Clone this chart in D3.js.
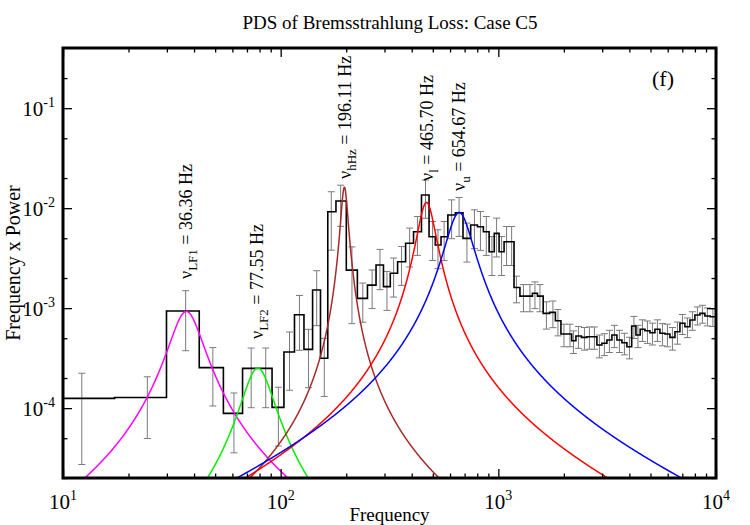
<!DOCTYPE html>
<html><head><meta charset="utf-8">
<script src="https://cdn.jsdelivr.net/npm/d3@7"></script>
<style>
body{margin:0;background:#fff}
svg{display:block}
text{font-family:"Liberation Serif","Times New Roman",Times,serif;fill:#000}
</style>
</head><body>
<svg id="chart" width="750" height="525"></svg>
<script>
// ---------- data ----------
const freq = [12.2, 24.4, 36.6, 48.8, 61.0, 73.2, 85.4, 97.6, 109.8, 122.0, 134.2, 146.4, 158.6, 170.8,
  188.6, 212.6, 238.4, 263.1, 285.9, 307.8, 330.3, 359.3, 391.3, 425.0, 462.8, 498.9, 528.0, 563.4, 610.1,
  660.2, 717.3, 776.6, 827.6, 880.5, 934.5, 981.8, 1035, 1091, 1151,
  1211, 1304, 1397, 1473, 1553, 1663, 1781, 1878, 2002, 2133, 2213, 2333, 2486, 2621, 2763, 2913, 3071,
  3238, 3414, 3600, 3795, 4002, 4198, 4379, 4592, 4842, 5105, 5381, 5675, 5982, 6307, 6650, 7010, 7391,
  7792, 8215, 8661, 9131, 9678];
const power = [1.253e-4, 1.277e-4, 9.35e-4, 2.54e-4, 8.87e-5, 2.50e-4, 2.50e-4, 1.018e-4, 3.64e-4, 8.59e-4,
  3.87e-4, 1.518e-3, 3.15e-4, 9.2e-3,
  1.178e-2, 2.40e-3, 1.253e-3, 1.70e-3, 2.70e-3, 1.64e-3, 2.23e-3, 2.91e-3, 4.45e-3, 5.81e-3, 1.352e-2,
  5.18e-3, 4.28e-3, 5.18e-3, 8.53e-3, 9.0e-3, 4.99e-3, 6.78e-3, 6.52e-3, 5.81e-3, 3.66e-3, 5.60e-3,
  3.66e-3, 4.61e-3, 4.61e-3,
  1.61e-3, 1.32e-3, 1.32e-3, 1.41e-3, 1.32e-3, 8.87e-4, 9.08e-4, 7.48e-4, 5.51e-4, 5.51e-4, 4.72e-4,
  5.26e-4, 5.10e-4, 5.18e-4, 5.18e-4, 4.28e-4, 4.45e-4, 4.80e-4, 5.38e-4, 4.80e-4, 4.51e-4, 4.11e-4,
  6.62e-4, 5.38e-4, 6.14e-4, 5.94e-4, 5.68e-4, 6.14e-4, 5.60e-4, 5.51e-4, 5.10e-4, 5.81e-4, 7.05e-4,
  6.52e-4, 7.60e-4, 8.53e-4, 8.87e-4, 8.34e-4, 8.20e-4];
const powerErr = [0.98e-4, 0.78e-4, 5.6e-4, 1.49e-4, 5.3e-5, 1.49e-4, 1.49e-4, 6.0e-5, 2.13e-4, 4.8e-4,
  2.27e-4, 8.5e-4, 1.84e-4, 5.4e-3,
  5.2e-3, 1.7e-3, 5.3e-4, 7.1e-4, 1.17e-3, 6.9e-4, 9.4e-4, 1.22e-3, 1.87e-3, 2.44e-3, 5.6e-3,
  2.18e-3, 1.8e-3, 2.18e-3, 3.58e-3, 3.78e-3, 2.1e-3, 2.85e-3, 2.74e-3, 2.44e-3, 1.54e-3, 2.35e-3,
  1.54e-3, 1.94e-3, 1.94e-3,
  4.8e-4, 4.0e-4, 4.0e-4, 4.2e-4, 4.0e-4, 2.7e-4, 2.7e-4, 2.2e-4, 1.4e-4, 1.4e-4, 1.2e-4,
  1.3e-4, 1.3e-4, 1.3e-4, 1.3e-4, 1.1e-4, 1.1e-4, 1.2e-4, 1.35e-4, 1.2e-4, 1.1e-4, 1.0e-4,
  1.65e-4, 1.35e-4, 1.5e-4, 1.5e-4, 1.4e-4, 1.5e-4, 1.4e-4, 1.4e-4, 1.3e-4, 1.45e-4, 1.6e-4,
  1.45e-4, 1.6e-4, 1.75e-4, 1.8e-4, 1.7e-4, 1.65e-4];

// Lorentzian QPO components (centroid, half width, peak of nu*P)
const qpoSub    = ["LF1", "LF2", "hHz", "l", "u"];
const qpoFreq   = [36.36, 77.55, 196.11, 465.70, 654.67];
const qpoWidth  = [6.15, 12.4, 7.2, 43.5, 91.0];
const qpoPeak   = [9.2e-4, 2.5e-4, 1.62e-2, 1.14e-2, 9.0e-3];
const qpoLabel  = ["= 36.36 Hz", "= 77.55 Hz", "= 196.11 Hz", "= 465.70 Hz", "= 654.67 Hz"];

const xTicks = [10, 100, 1000, 10000];
const xTickExp = ["1", "2", "3", "4"];
const yTicks = [1e-4, 1e-3, 1e-2, 1e-1];
const yTickExp = ["-4", "-3", "-2", "-1"];

const titleText = "PDS of Bremsstrahlung Loss: Case C5";
const xTitle = "Frequency";
const yTitle = "Frequency x Power";
const panelTag = "(f)";

// ---------- styles / layout ----------
const qpoColor = ["#ff00ff", "#00ee00", "#a52a2a", "#ff0000", "#0000ff"];
const labelBottom = [279, 339, 179, 181, 191];
const L = 63, R = 716, T = 48, B = 478;

const svg = d3.select("#chart");
const x = d3.scaleLog().domain([10, 1e4]).range([L, R]);
const y = d3.scaleLog().domain([2e-5, 0.4]).range([B, T]);

svg.append("defs").append("clipPath").attr("id", "clip")
  .append("rect").attr("x", L).attr("y", T).attr("width", R - L).attr("height", B - T);

const plot = svg.append("g").attr("clip-path", "url(#clip)");

// error bars
const bins = freq.map((f, i) => ({f, v: power[i], e: powerErr[i]}));
const eb = plot.append("g").attr("stroke", "#7a7a7a").attr("stroke-width", 1).attr("fill", "none");
bins.forEach(d => {
  const px = x(d.f);
  const yt = y(d.v + d.e);
  const lo = d.v - d.e;
  const yb = lo > 0 ? y(lo) : B + 10;
  eb.append("line").attr("x1", px).attr("x2", px).attr("y1", yt).attr("y2", yb);
  eb.append("line").attr("x1", px - 3.5).attr("x2", px + 3.5).attr("y1", yt).attr("y2", yt);
  if (lo > 0) eb.append("line").attr("x1", px - 3.5).attr("x2", px + 3.5).attr("y1", yb).attr("y2", yb);
});

// histogram steps (edges at geometric midpoints)
const stepPts = [];
bins.forEach((d, i) => {
  const left = i === 0 ? d.f * d.f / freq[1] : Math.sqrt(freq[i - 1] * d.f);
  const n = freq.length;
  const right = i === n - 1 ? d.f * d.f / freq[n - 2] : Math.sqrt(d.f * freq[i + 1]);
  stepPts.push([left, d.v], [right, d.v]);
});
plot.append("path").datum(stepPts)
  .attr("fill", "none").attr("stroke", "#000").attr("stroke-width", 1.6)
  .attr("d", d3.line().x(p => x(p[0])).y(p => y(p[1])));

// Lorentzian curves
const samp = d3.range(0, 3001).map(i => Math.pow(10, 1 + 3 * i / 3000));
qpoFreq.forEach((nu, k) => {
  const w = qpoWidth[k], pk = qpoPeak[k];
  const pts = samp.concat([nu]).sort((a, b) => a - b)
    .map(f => [f, pk * (f / nu) * w * w / (w * w + (f - nu) * (f - nu))]);
  plot.append("path").datum(pts)
    .attr("fill", "none").attr("stroke", qpoColor[k]).attr("stroke-width", 1.5)
    .attr("d", d3.line().x(p => x(p[0])).y(p => y(Math.max(p[1], 1e-7))));
});

// QPO labels
qpoFreq.forEach((nu, k) => {
  const t = svg.append("text")
    .attr("transform", `translate(${x(nu) + 6.5},${labelBottom[k]}) rotate(-90)`)
    .attr("font-size", 18);
  t.append("tspan").text("ν");
  t.append("tspan").attr("font-size", 13).attr("dy", 5).text(qpoSub[k]);
  t.append("tspan").attr("dy", -5).text(" " + qpoLabel[k]);
});

// ticks via d3 axes
function minorVals(domain) {
  const out = [];
  for (let e = Math.floor(Math.log10(domain[0])); e <= Math.ceil(Math.log10(domain[1])); e++)
    for (let m = 1; m < 10; m++) {
      const v = m * Math.pow(10, e);
      if (v >= domain[0] * 0.999 && v <= domain[1] * 1.001) out.push(v);
    }
  return out;
}
const xMinor = minorVals(x.domain()).filter(v => !xTicks.includes(v));
const yMinor = minorVals(y.domain()).filter(v => {
  const m = Math.round(v / Math.pow(10, Math.floor(Math.log10(v) + 1e-9)));
  return m === 2 || m === 5;
});

function addAxis(axisFn, scale, vals, len, transform) {
  const g = svg.append("g").attr("transform", transform)
    .call(axisFn(scale).tickValues(vals).tickSize(-len).tickFormat(""));
  g.select(".domain").remove();
  g.selectAll(".tick line").attr("stroke", "#000").attr("stroke-width", 1.3);
}
addAxis(d3.axisBottom, x, xTicks, 9, `translate(0,${B})`);
addAxis(d3.axisBottom, x, xMinor, 4.5, `translate(0,${B})`);
addAxis(d3.axisTop, x, xTicks, 9, `translate(0,${T})`);
addAxis(d3.axisTop, x, xMinor, 4.5, `translate(0,${T})`);
addAxis(d3.axisLeft, y, yTicks, 9, `translate(${L},0)`);
addAxis(d3.axisLeft, y, yMinor, 4.5, `translate(${L},0)`);
addAxis(d3.axisRight, y, yTicks, 9, `translate(${R},0)`);
addAxis(d3.axisRight, y, yMinor, 4.5, `translate(${R},0)`);

// frame
svg.append("rect").attr("x", L).attr("y", T).attr("width", R - L).attr("height", B - T)
  .attr("fill", "none").attr("stroke", "#000").attr("stroke-width", 3);

// tick labels
xTicks.forEach((v, i) => {
  const t = svg.append("text").attr("x", x(v)).attr("y", 509).attr("text-anchor", "middle").attr("font-size", 21);
  t.append("tspan").text("10");
  t.append("tspan").attr("font-size", 14).attr("dy", -9).text(xTickExp[i]);
});
yTicks.forEach((v, i) => {
  const t = svg.append("text").attr("x", 55).attr("y", y(v) + 8).attr("text-anchor", "end").attr("font-size", 21);
  t.append("tspan").text("10");
  t.append("tspan").attr("font-size", 14).attr("dy", -9).text(yTickExp[i]);
});

// titles
svg.append("text").attr("x", 390).attr("y", 29).attr("text-anchor", "middle").attr("font-size", 19).text(titleText);
svg.append("text").attr("x", (L + R) / 2).attr("y", 521).attr("text-anchor", "middle").attr("font-size", 19).text(xTitle);
svg.append("text").attr("transform", `translate(20,${(T + B) / 2}) rotate(-90)`)
  .attr("text-anchor", "middle").attr("font-size", 20).text(yTitle);
svg.append("text").attr("x", 652).attr("y", 86).attr("font-size", 22).text(panelTag);
</script>
</body></html>
